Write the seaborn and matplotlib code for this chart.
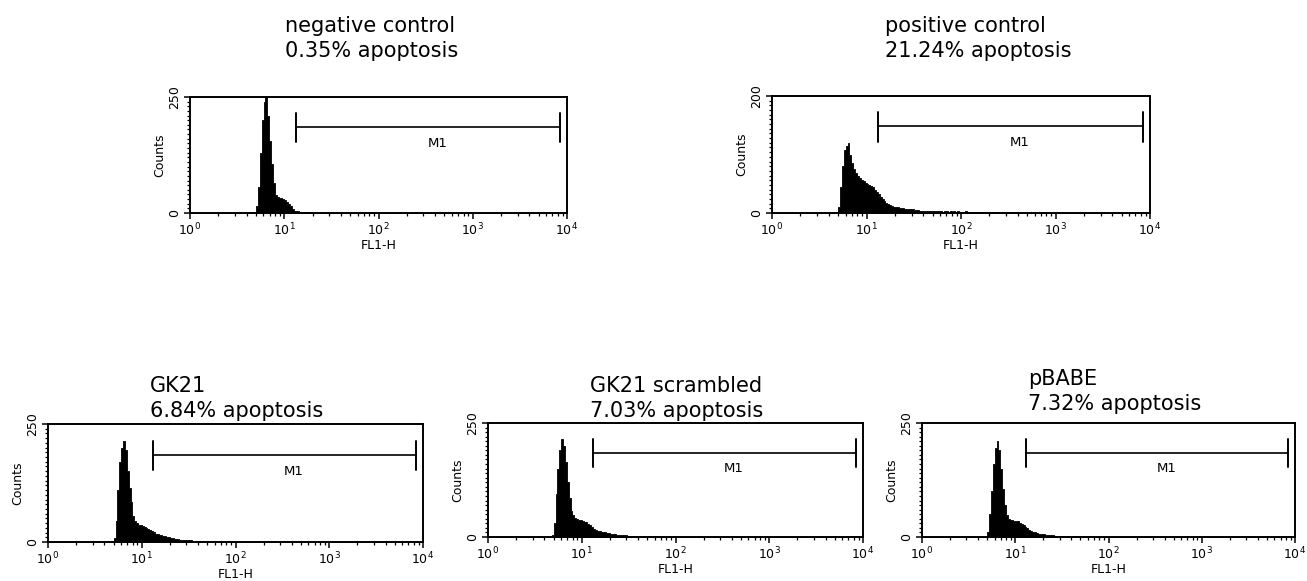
import numpy as np
import pandas as pd
import seaborn as sns
import matplotlib.pyplot as plt
from matplotlib.ticker import LogLocator, MultipleLocator

# FL1-H histograms, 200 log channels over 4 decades (0.02 decade each)
# counts listed from channel 34 (10^0.68) onwards
start_ch = 34
neg_ctrl = [3, 15, 55, 130, 200, 240, 250, 210, 155, 105, 65, 38, 34, 33, 32, 30,
            27, 24, 20, 15, 8, 5, 4, 4, 3, 3, 2, 2, 2, 1, 2, 1, 1, 0, 1, 0, 1, 0,
            0, 1, 0, 0, 0, 1, 0, 0, 0, 0, 1, 0, 0, 0, 1]
pos_ctrl = [2, 10, 45, 80, 108, 115, 119, 100, 85, 75, 68, 63, 60, 57, 54, 51, 50,
            48, 46, 44, 40, 36, 32, 28, 24, 20, 17, 15, 14, 12, 11, 10, 10, 9, 9, 8,
            7, 7, 6, 6, 6, 5, 5, 5, 4, 4, 4, 4, 4, 3, 4, 3, 3, 3, 3, 3, 2, 3, 3, 2,
            3, 2, 3, 2, 3, 2, 2, 2, 3, 2, 2, 1, 2, 2, 1, 2, 2, 1, 2, 1, 2, 1, 1, 2,
            1, 1, 2, 1, 1, 1, 0, 1, 1, 0, 1, 1, 0, 1, 0, 1, 0, 0, 1, 0, 1]
gk21 = [2, 8, 45, 110, 170, 200, 215, 195, 150, 115, 85, 55, 45, 40, 37, 35, 33,
        31, 29, 27, 25, 23, 21, 18, 16, 15, 14, 13, 12, 11, 10, 9, 8, 7, 6, 6, 5,
        5, 5, 4, 4, 4, 4, 3, 3, 3, 3, 3, 2, 3, 2, 2, 3, 2, 2, 2, 1, 2, 2, 1, 2, 1,
        1, 2, 1, 1, 1, 0, 1, 1, 0, 1, 0, 1, 0, 1]
gk21_scr = [5, 30, 95, 150, 190, 215, 200, 165, 120, 85, 58, 48, 42, 40, 38, 37,
            35, 33, 32, 29, 26, 22, 18, 16, 14, 13, 12, 11, 10, 9, 8, 7, 6, 6, 5, 5,
            5, 4, 4, 4, 3, 3, 3, 3, 3, 2, 3, 2, 2, 3, 2, 2, 2, 2, 3, 2, 2, 2, 1, 2,
            2, 1, 2, 1, 1, 2, 1, 1, 1, 0, 1, 1, 0, 1, 0, 1]
pbabe = [0, 10, 50, 100, 160, 195, 211, 190, 150, 105, 70, 48, 40, 38, 37, 36, 36,
         34, 31, 29, 26, 22, 19, 16, 14, 12, 10, 9, 7, 7, 6, 6, 5, 5, 4, 4, 4, 3,
         3, 3, 3, 3, 2, 3, 2, 2, 3, 2, 2, 2, 2, 1, 2, 2, 1, 2, 1, 2, 1, 1, 2, 1, 1,
         1, 0, 1, 1, 0, 1, 0, 1]

names = ["negative control", "positive control", "GK21", "GK21 scrambled", "pBABE"]
pct = ["0.35% apoptosis", "21.24% apoptosis", "6.84% apoptosis",
       "7.03% apoptosis", "7.32% apoptosis"]
series = [neg_ctrl, pos_ctrl, gk21, gk21_scr, pbabe]
ymax = [250, 200, 250, 250, 250]
m1_range = (13.2, 8400)

# axes boxes in pixels (left, top, right, bottom) and title anchor (x, baseline1)
W, H = 1307, 581
boxes = [(190, 97, 567, 213), (772, 96, 1150, 213), (48, 424, 423, 542),
         (488, 423, 863, 537), (922, 423, 1295, 537)]
title_xy = [(285, 32), (885, 32), (150, 392), (590, 392), (1028, 385)]

sns.set_style("ticks")
plt.rcParams['font.family'] = ['DejaVu Sans']
plt.rcParams['text.color'] = 'black'
plt.rcParams['axes.labelcolor'] = 'black'
plt.rcParams['xtick.color'] = 'black'
plt.rcParams['ytick.color'] = 'black'
fig = plt.figure(figsize=(W / 100, H / 100), dpi=100)

for k in range(5):
    l, t, r, b = boxes[k]
    ax = fig.add_axes([l / W, 1 - b / H, (r - l) / W, (b - t) / H])
    cnt = np.array(series[k], dtype=float)
    ch = np.arange(start_ch, start_ch + len(cnt))
    df = pd.DataFrame({"fl1": 10 ** (0.02 * ch + 0.01), "n": cnt})
    sns.histplot(data=df, x="fl1", weights="n", binwidth=0.02, binrange=(0, 4),
                 log_scale=True, element="step", fill=True, color="black",
                 alpha=1, linewidth=0.6, ax=ax)
    ax.set_xlim(1, 1e4)
    ax.set_ylim(0, ymax[k])
    ax.set_yticks([0, ymax[k]])
    ax.yaxis.set_minor_locator(MultipleLocator(10 if ymax[k] == 250 else 8))
    ax.xaxis.set_major_locator(LogLocator(base=10, numticks=10))
    ax.xaxis.set_minor_locator(LogLocator(base=10, subs=np.arange(2, 10), numticks=10))
    ax.tick_params(axis="both", which="major", length=4.5, width=1.1, labelsize=9,
                   pad=2)
    ax.tick_params(axis="both", which="minor", length=2.5, width=0.9)
    ax.tick_params(axis="y", labelrotation=90)
    for lab in ax.get_yticklabels():
        lab.set_va("center")
    for s in ax.spines.values():
        s.set_linewidth(1.4)
        s.set_color("black")
    ax.set_xlabel("FL1-H", fontsize=9, labelpad=0)
    ax.set_ylabel("Counts", fontsize=9, labelpad=1)

    # M1 marker
    tr = ax.get_xaxis_transform()
    x0, x1 = m1_range
    ax.plot([x0, x1], [0.74, 0.74], color="black", lw=1.2, transform=tr)
    ax.plot([x0, x0], [0.61, 0.86], color="black", lw=1.4, transform=tr)
    ax.plot([x1, x1], [0.61, 0.86], color="black", lw=1.4, transform=tr)
    ax.text(420, 0.6, "M1", transform=tr, ha="center", va="center", fontsize=9.5)

    tx, ty = title_xy[k]
    fig.text(tx / W, 1 - ty / H, names[k], fontsize=15, ha="left", va="baseline")
    fig.text(tx / W, 1 - (ty + 25) / H, pct[k], fontsize=15, ha="left", va="baseline")

fig.savefig("out.png", dpi=100)
